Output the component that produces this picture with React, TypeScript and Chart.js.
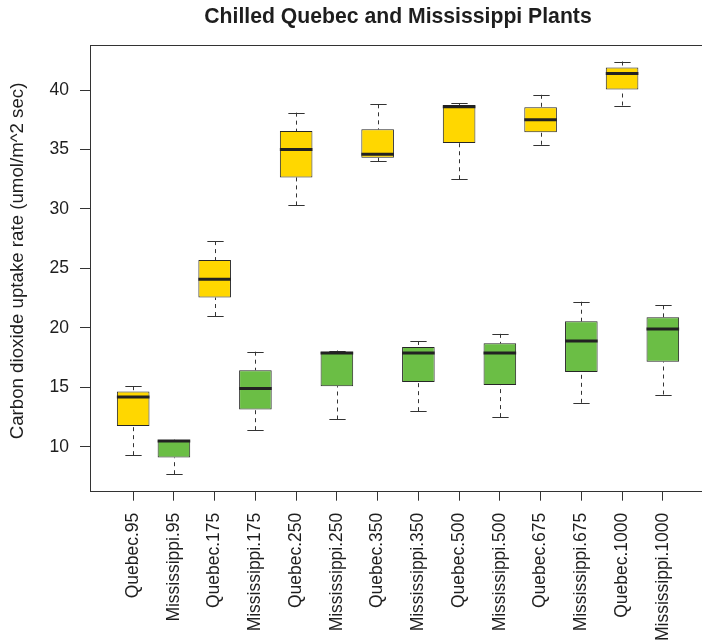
import React, { useEffect, useRef } from "react";
import { Chart, registerables } from "chart.js";

Chart.register(...registerables);

const TITLE = "Chilled Quebec and Mississippi Plants";
const Y_TITLE = "Carbon dioxide uptake rate (umol/m^2 sec)";

const categories = [
  "Quebec.95", "Mississippi.95", "Quebec.175", "Mississippi.175",
  "Quebec.250", "Mississippi.250", "Quebec.350", "Mississippi.350",
  "Quebec.500", "Mississippi.500", "Quebec.675", "Mississippi.675",
  "Quebec.1000", "Mississippi.1000",
];
const groups = [
  "Quebec", "Mississippi", "Quebec", "Mississippi", "Quebec", "Mississippi", "Quebec",
  "Mississippi", "Quebec", "Mississippi", "Quebec", "Mississippi", "Quebec", "Mississippi",
];
const whiskerLow = [9.3, 7.7, 21.0, 11.4, 30.3, 12.3, 34.0, 13.0, 32.5, 12.5, 35.4, 13.7, 38.7, 14.4];
const lowerHinge = [11.75, 9.1, 22.55, 13.15, 32.65, 15.1, 34.3, 15.45, 35.55, 15.2, 36.45, 16.3, 40.05, 17.15];
const medians = [14.2, 10.5, 24.1, 14.9, 35.0, 17.9, 34.6, 17.9, 38.6, 17.9, 37.5, 18.9, 41.4, 19.9];
const upperHinge = [14.65, 10.55, 25.7, 16.45, 36.55, 18.0, 36.7, 18.4, 38.75, 18.7, 38.55, 20.55, 41.9, 20.9];
const whiskerHigh = [15.1, 10.6, 27.3, 18.0, 38.1, 18.1, 38.8, 18.9, 38.9, 19.5, 39.6, 22.2, 42.4, 21.9];
const yTicks = [10, 15, 20, 25, 30, 35, 40];

const GROUP_COLORS: Record<string, string> = { Quebec: "#FFD700", Mississippi: "#6BBE45" };
const FONT = "'Liberation Sans', Arial, Helvetica, sans-serif";
const INK = "#1e1e1e";
const LINE = "#333333";

// R-like axis extents (4% extension)
const dataMin = Math.min(...whiskerLow);
const dataMax = Math.max(...whiskerHigh);
const yPad = (dataMax - dataMin) * 0.04;
const Y_MIN = dataMin - yPad;
const Y_MAX = dataMax + yPad;
const X_MIN = 0.5 - categories.length * 0.04;
const X_MAX = categories.length + 0.5 + categories.length * 0.04;

function buildDataset(group: string) {
  const data: { x: number; y: [number, number] }[] = [];
  categories.forEach((_, i) => {
    if (groups[i] === group) data.push({ x: i + 1, y: [lowerHinge[i], upperHinge[i]] });
  });
  return {
    type: "bar" as const,
    label: group,
    data,
    backgroundColor: GROUP_COLORS[group],
    borderColor: "#262626",
    borderWidth: 1,
    borderSkipped: false as const,
    barPercentage: 0.8,
    categoryPercentage: 1,
    grouped: false,
  };
}

function boxWidth(chart: any): number {
  const meta = chart.getDatasetMeta(0);
  const el = meta && meta.data && meta.data[0];
  return el ? (el as any).width : 30;
}

const boxParts = {
  id: "boxParts",
  beforeDatasetsDraw(chart: any) {
    const { ctx, scales } = chart;
    const xs = scales.x;
    const ys = scales.y;
    const bw = boxWidth(chart);
    const capHalf = bw / 4;
    ctx.save();
    ctx.strokeStyle = LINE;
    ctx.lineWidth = 1;
    categories.forEach((_, i) => {
      const px = Math.round(xs.getPixelForValue(i + 1)) + 0.5;
      const yLo = ys.getPixelForValue(whiskerLow[i]);
      const yQ1 = ys.getPixelForValue(lowerHinge[i]);
      const yQ3 = ys.getPixelForValue(upperHinge[i]);
      const yHi = ys.getPixelForValue(whiskerHigh[i]);
      ctx.setLineDash([4, 4]);
      ctx.beginPath();
      ctx.moveTo(px, yLo);
      ctx.lineTo(px, yQ1);
      ctx.moveTo(px, yHi);
      ctx.lineTo(px, yQ3);
      ctx.stroke();
      ctx.setLineDash([]);
      ctx.beginPath();
      ctx.moveTo(px - capHalf, Math.round(yLo) + 0.5);
      ctx.lineTo(px + capHalf, Math.round(yLo) + 0.5);
      ctx.moveTo(px - capHalf, Math.round(yHi) + 0.5);
      ctx.lineTo(px + capHalf, Math.round(yHi) + 0.5);
      ctx.stroke();
    });
    ctx.restore();
  },
  afterDatasetsDraw(chart: any) {
    const { ctx, scales } = chart;
    const xs = scales.x;
    const ys = scales.y;
    const bw = boxWidth(chart);
    ctx.save();
    ctx.strokeStyle = "#222222";
    ctx.lineWidth = 3;
    ctx.lineCap = "butt";
    categories.forEach((_, i) => {
      const px = xs.getPixelForValue(i + 1);
      const py = ys.getPixelForValue(medians[i]);
      ctx.beginPath();
      ctx.moveTo(px - bw / 2, py);
      ctx.lineTo(px + bw / 2, py);
      ctx.stroke();
    });
    ctx.restore();
  },
  afterDraw(chart: any) {
    const { ctx, chartArea } = chart;
    ctx.save();
    ctx.strokeStyle = LINE;
    ctx.lineWidth = 1;
    ctx.strokeRect(
      Math.round(chartArea.left) + 0.5,
      Math.round(chartArea.top) + 0.5,
      Math.round(chartArea.right - chartArea.left),
      Math.round(chartArea.bottom - chartArea.top)
    );
    // y-axis title (R centres it slightly above the plot centre here)
    ctx.translate(23, 261);
    ctx.rotate(-Math.PI / 2);
    ctx.font = `18.7px ${FONT}`;
    ctx.fillStyle = INK;
    ctx.textAlign = "center";
    ctx.textBaseline = "alphabetic";
    ctx.fillText(Y_TITLE, 0, 0);
    ctx.restore();
  },
};

export default function App() {
  const canvasRef = useRef<HTMLCanvasElement | null>(null);

  useEffect(() => {
    const canvas = canvasRef.current;
    if (!canvas) return;
    const chart = new Chart(canvas, {
      type: "bar",
      data: {
        datasets: [buildDataset("Quebec"), buildDataset("Mississippi")] as any,
      },
      plugins: [boxParts],
      options: {
        animation: false,
        responsive: false,
        devicePixelRatio: 1,
        layout: { padding: { left: 0, right: 14, top: 0, bottom: 0 } },
        plugins: {
          legend: { display: false },
          tooltip: { enabled: false },
          title: {
            display: true,
            text: TITLE,
            fullSize: false,
            color: INK,
            font: { family: FONT, size: 21.2, weight: "bold", lineHeight: 1.2 },
            padding: { top: 4, bottom: 15.56 },
          },
        },
        scales: {
          x: {
            type: "linear",
            min: X_MIN,
            max: X_MAX,
            offset: false,
            afterBuildTicks: (s: any) => {
              s.ticks = categories.map((_, i) => ({ value: i + 1 }));
            },
            afterFit: (s: any) => {
              s.height = 150.3;
            },
            grid: {
              offset: false,
              drawOnChartArea: false,
              drawTicks: true,
              tickLength: 10,
              color: LINE,
              tickColor: LINE,
            },
            border: { display: false },
            ticks: {
              autoSkip: false,
              minRotation: 90,
              maxRotation: 90,
              padding: 12,
              color: INK,
              font: { family: FONT, size: 17.5 },
              callback: (v: any) => categories[Math.round(Number(v)) - 1] ?? "",
            },
          },
          y: {
            type: "linear",
            min: Y_MIN,
            max: Y_MAX,
            afterBuildTicks: (s: any) => {
              s.ticks = yTicks.map((v) => ({ value: v }));
            },
            afterFit: (s: any) => {
              s.width = 90;
            },
            grid: { drawOnChartArea: false, drawTicks: true, tickLength: 10, color: LINE, tickColor: LINE },
            border: { display: false },
            ticks: {
              padding: 11,
              color: INK,
              font: { family: FONT, size: 17.5 },
            },
          },
        },
      } as any,
    });
    return () => chart.destroy();
  }, []);

  return (
    <div
      style={{
        position: "absolute",
        left: 0,
        top: 0,
        width: 702,
        height: 641,
        overflow: "hidden",
        background: "#ffffff",
      }}
    >
      <canvas ref={canvasRef} width={720} height={641} style={{ display: "block" }} />
    </div>
  );
}
